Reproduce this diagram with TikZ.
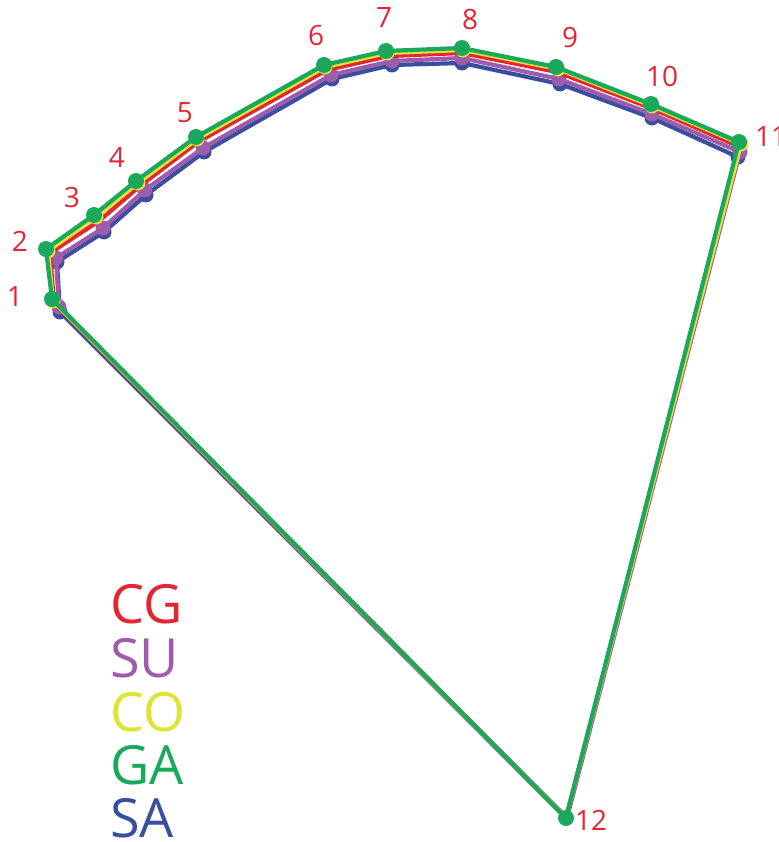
\documentclass[tikz,border=0pt]{standalone}
\usepackage{fontspec}
\setmainfont{Open Sans}
\definecolor{cgc}{RGB}{228,38,52}
\definecolor{suc}{RGB}{158,92,172}
\definecolor{coc}{RGB}{222,228,52}
\definecolor{gac}{RGB}{28,168,92}
\definecolor{sac}{RGB}{58,78,160}
\begin{document}
\begin{tikzpicture}[x=1pt,y=-1pt,
  outline/.style={line width=4.2pt,line join=round},
  num/.style={text=cgc,font=\fontsize{28}{28}\selectfont,inner sep=0pt},
  leg/.style={font=\fontsize{54}{54}\selectfont,inner sep=0pt,anchor=west}]
\useasboundingbox (0,0) rectangle (778,842);
% SA (blue)
\foreach \i/\x/\y in {1/60/312,2/57/262,3/104/232,4/146/195,5/204/152,6/332/79,7/392/65,8/462/63,9/560/84,10/652/118,11/738/157,12/566/818}
  \coordinate (sa\i) at (\x,\y);
\draw[outline,sac] (sa1)--(sa2)--(sa3)--(sa4)--(sa5)--(sa6)--(sa7)--(sa8)--(sa9)--(sa10)--(sa11)--(sa12)--cycle;
\foreach \i in {1,...,11} \fill[sac] (sa\i) circle (7.5pt);
% SU (purple)
\foreach \i/\x/\y in {1/59/307,2/56/258,3/103/228,4/145/190,5/203/148,6/331/75,7/392/61,8/462/58,9/559/79,10/652/114,11/740/152,12/567/818}
  \coordinate (su\i) at (\x,\y);
\draw[outline,suc] (su1)--(su2)--(su3)--(su4)--(su5)--(su6)--(su7)--(su8)--(su9)--(su10)--(su11)--(su12)--cycle;
\foreach \i in {1,...,11} \fill[suc] (su\i) circle (7.5pt);
% CG (red)
\foreach \i/\x/\y in {1/54/303,2/50/253,3/99/221,4/140/186,5/198/142,6/327/70,7/389/56,8/462/53,9/557/72,10/651/108,11/740/147,12/566/818}
  \coordinate (cg\i) at (\x,\y);
\draw[outline,cgc] (cg1)--(cg2)--(cg3)--(cg4)--(cg5)--(cg6)--(cg7)--(cg8)--(cg9)--(cg10)--(cg11)--(cg12)--cycle;
% CO (yellow)
\foreach \i/\x/\y in {1/53/301,2/48/251,3/96/217,4/138/183,5/197/139,6/325/67,7/387/53,8/463/50,9/558/69,10/652/106,11/741/144,12/566/818}
  \coordinate (co\i) at (\x,\y);
\draw[outline,coc] (co1)--(co2)--(co3)--(co4)--(co5)--(co6)--(co7)--(co8)--(co9)--(co10)--(co11)--(co12)--cycle;
\foreach \i in {1,...,11} \fill[coc] (co\i) circle (7.5pt);
% GA (green)
\foreach \i/\x/\y in {1/52/299,2/46/249,3/94/215,4/136/181,5/196/137,6/324/65,7/386/51,8/462/48,9/556/67,10/651/104,11/739/142,12/566/818}
  \coordinate (ga\i) at (\x,\y);
\draw[outline,gac] (ga1)--(ga2)--(ga3)--(ga4)--(ga5)--(ga6)--(ga7)--(ga8)--(ga9)--(ga10)--(ga11)--(ga12)--cycle;
\foreach \i in {1,...,12} \fill[gac] (ga\i) circle (8pt);
% landmark numbers
\node[num] (n1) at (15,297) {1};
\node[num] (n2) at (20,241) {2};
\node[num] (n3) at (72,197) {3};
\node[num] (n4) at (117,157) {4};
\node[num] (n5) at (185,113) {5};
\node[num] (n6) at (316,36) {6};
\node[num] (n7) at (384,18) {7};
\node[num] (n8) at (470,20) {8};
\node[num] (n9) at (570,38) {9};
\node[num] (n10) at (662,76) {10};
\node[num,anchor=west] (n11) at (755,137) {11};
\node[num] (n12) at (591,820) {12};
% legend
\node[leg,text=cgc] (lcg) at (110,604) {CG};
\node[leg,text=suc] (lsu) at (110,658) {SU};
\node[leg,text=coc] (lco) at (110,712) {CO};
\node[leg,text=gac] (lga) at (110,765) {GA};
\node[leg,text=sac] (lsa) at (110,818) {SA};
\end{tikzpicture}
\end{document}
